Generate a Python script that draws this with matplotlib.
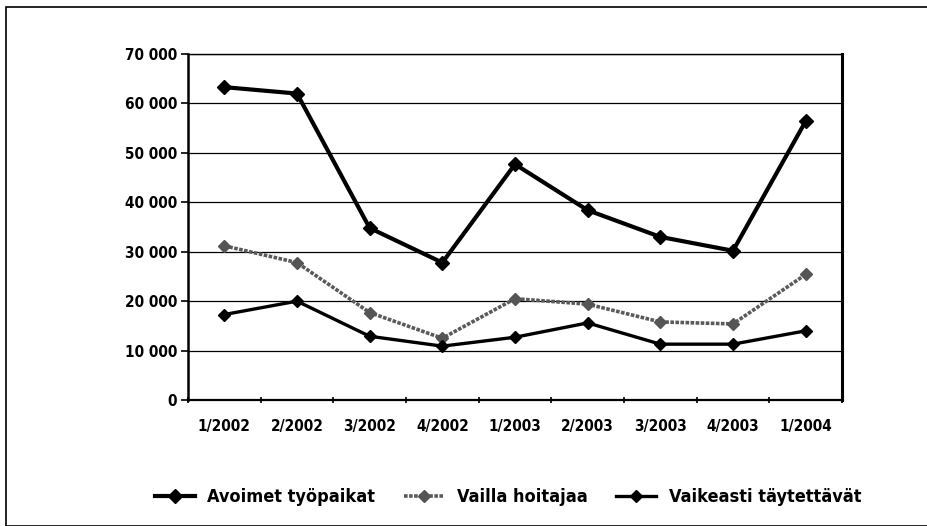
import matplotlib
matplotlib.use("Agg")
import matplotlib.pyplot as plt
from matplotlib.patches import Rectangle
from matplotlib.ticker import FuncFormatter, FixedLocator

quarters = ["1/2002", "2/2002", "3/2002", "4/2002", "1/2003",
            "2/2003", "3/2003", "4/2003", "1/2004"]
avoimet = [63300, 62000, 34800, 27800, 47700, 38400, 33000, 30200, 56400]
vailla = [31200, 27800, 17700, 12500, 20500, 19400, 15800, 15400, 25400]
vaikeasti = [17300, 20000, 12900, 10900, 12700, 15600, 11300, 11300, 14000]
series_names = ["Avoimet työpaikat", "Vailla hoitajaa", "Vaikeasti täytettävät"]

plt.rcParams['font.family'] = ['DejaVu Sans']
plt.rcParams['font.stretch'] = 'condensed'

fig = plt.figure(figsize=(9.27, 5.26), dpi=100)
ax = fig.add_axes([0.2028, 0.2395, 0.7055, 0.6578])

x = list(range(len(quarters)))
ax.plot(x, avoimet, color="black", lw=3, marker="D", ms=7, label=series_names[0], zorder=5)
ax.plot(x, vailla, color="#5a5a5a", lw=2.6, ls=(0, (1, 0.4)), marker="D", ms=6,
        mfc="#555555", mec="#555555", label=series_names[1], zorder=4)
ax.plot(x, vaikeasti, color="black", lw=2.4, marker="D", ms=6, label=series_names[2], zorder=4)

ax.set_xlim(-0.5, len(quarters) - 0.5)
ax.set_ylim(0, 70000)
ax.set_yticks(range(0, 70001, 10000))
ax.yaxis.set_major_formatter(FuncFormatter(lambda v, p: f"{int(v):,}".replace(",", " ")))
ax.set_xticks(x)
ax.set_xticklabels(quarters)
ax.xaxis.set_minor_locator(FixedLocator([i - 0.5 for i in range(len(quarters) + 1)]))
ax.tick_params(axis="x", which="major", length=0, pad=14)
ax.tick_params(axis="x", which="minor", length=5, width=1.2, direction="inout")
ax.tick_params(axis="y", length=5, width=1.2, pad=3)
for lab in ax.get_xticklabels() + ax.get_yticklabels():
    lab.set_fontsize(11)
    lab.set_fontweight("bold")
    lab.set_fontstretch("condensed")

ax.grid(axis="y", color="black", lw=0.9)
ax.set_axisbelow(True)
for sp in ax.spines.values():
    sp.set_color("black")
    sp.set_linewidth(1.0)
ax.spines["left"].set_linewidth(1.8)
ax.spines["right"].set_linewidth(2.2)
ax.spines["bottom"].set_linewidth(1.6)

fig.legend(loc="center", bbox_to_anchor=(0.548, 0.055), ncol=3, frameon=False,
           handlelength=2.2, columnspacing=1.6, handletextpad=0.7,
           prop={"size": 13, "weight": "semibold", "stretch": "condensed"})

fig.patches.append(Rectangle((6 / 927, 0.0), 1.0, 1 - 7 / 526, transform=fig.transFigure,
                             fill=False, edgecolor="black", lw=1.2))

fig.savefig("out.png", dpi=100)
